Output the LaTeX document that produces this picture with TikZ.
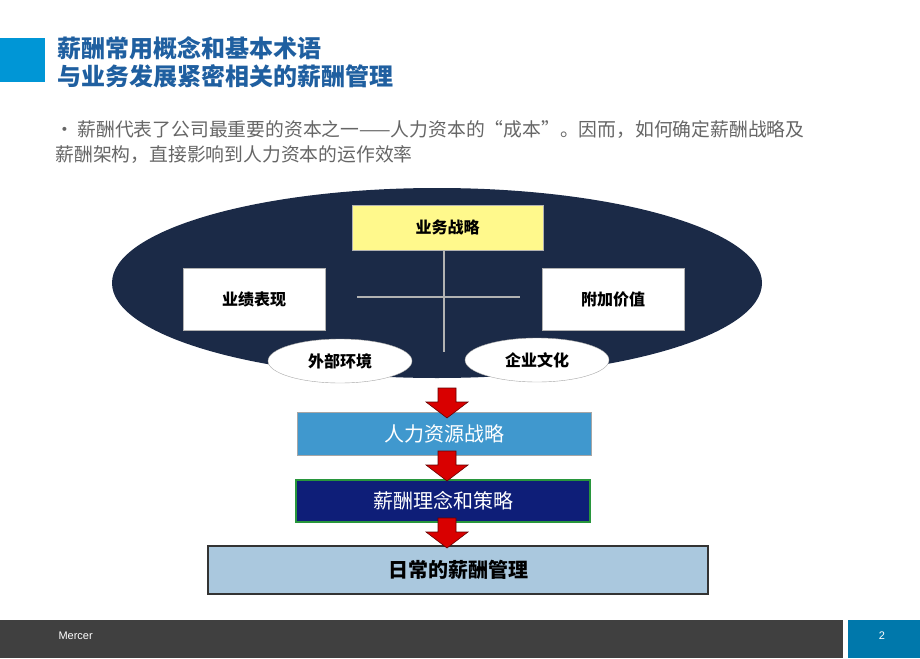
\documentclass[tikz,border=0pt]{standalone}
\usepackage{fontspec}
\setmainfont{Liberation Sans}
\newfontfamily\cjk{Noto Sans CJK SC}
\usetikzlibrary{shapes.geometric}
\definecolor{navy}{HTML}{1B2A47}
\definecolor{ttl}{HTML}{1F5FA0}
\definecolor{bar}{HTML}{0096D6}
\tikzset{x=1pt,y=-1pt,
 wbox/.style={draw=gray!60,fill=white,minimum width=142pt,minimum height=62pt,font=\cjk\bfseries\fontsize{16}{16}\selectfont},
 sell/.style={ellipse,draw=gray!70,fill=white,minimum width=144pt,minimum height=44pt,font=\cjk\bfseries\fontsize{16}{16}\selectfont},
 rarr/.style={draw=red!40!black,fill=red!85!black,line width=0.6pt},
 cline/.style={draw=gray!60,line width=2pt}}
\newcommand\downarr[2]{\path[rarr] (#1-9,#2) -- (#1+9,#2) -- (#1+9,#2+14) -- (#1+21,#2+14) -- (#1,#2+30) -- (#1-21,#2+14) -- (#1-9,#2+14) -- cycle;}
\begin{document}
\begin{tikzpicture}
\useasboundingbox (0,0) rectangle (920,658);
\fill[white] (0,0) rectangle (920,658);
\fill[bar] (0,38) rectangle (45,82);
\node[anchor=west,text=ttl,font=\cjk\bfseries\fontsize{24}{24}\selectfont] (t1) at (54,48) {薪酬常用概念和基本术语};
\node[anchor=west,text=ttl,font=\cjk\bfseries\fontsize{24}{24}\selectfont] (t2) at (54,76) {与业务发展紧密相关的薪酬管理};
\node[anchor=west,text=gray!80!black,font=\cjk\fontsize{18.8}{18.8}\selectfont] (b1) at (52,130) {•\,薪酬代表了公司最重要的资本之一——人力资本的“成本”。因而，如何确定薪酬战略及};
\node[anchor=west,text=gray!80!black,font=\cjk\fontsize{18.8}{18.8}\selectfont] (b2) at (52,155) {薪酬架构，直接影响到人力资本的运作效率};
\node[ellipse,fill=navy,minimum width=650pt,minimum height=190pt] (E) at (437,283) {};
\draw[cline] (444,250) -- (444,352);
\draw[cline] (357,297) -- (520,297);
\node[wbox,fill=yellow!45,minimum width=191pt,minimum height=45pt] (ys) at (447.5,227.5) {业务战略};
\node[wbox] (yj) at (254,299) {业绩表现};
\node[wbox] (fj) at (613,299) {附加价值};
\node[sell] (wb) at (340,361) {外部环境};
\node[sell] (qy) at (537,360) {企业文化};
\node[draw=gray!70,line width=1pt,fill={rgb,255:red,64;green,152;blue,206},minimum width=294pt,minimum height=43pt,text=white,font=\cjk\fontsize{20}{20}\selectfont] (hr) at (444,433.5) {人力资源战略};
\node[draw={rgb,255:red,40;green,150;blue,60},line width=1.5pt,fill={rgb,255:red,14;green,30;blue,120},minimum width=294pt,minimum height=42pt,text=white,font=\cjk\fontsize{20}{20}\selectfont] (xc) at (443,501) {薪酬理念和策略};
\node[draw=black!80,line width=1.5pt,fill={rgb,255:red,170;green,200;blue,222},minimum width=500pt,minimum height=48pt,font=\cjk\bfseries\fontsize{20}{20}\selectfont] (rc) at (458,570) {日常的薪酬管理};
\downarr{447}{388}
\downarr{447}{451}
\downarr{447}{518}
\fill[black!75] (0,620) rectangle (843,658);
\fill[bar!80!black] (848,620) rectangle (920,658);
\node[anchor=west,text=white,font=\fontsize{11}{11}\selectfont] (m) at (55,636) {Mercer};
\node[text=white,font=\fontsize{11}{11}\selectfont] (p) at (882,636) {2};
\end{tikzpicture}
\end{document}
